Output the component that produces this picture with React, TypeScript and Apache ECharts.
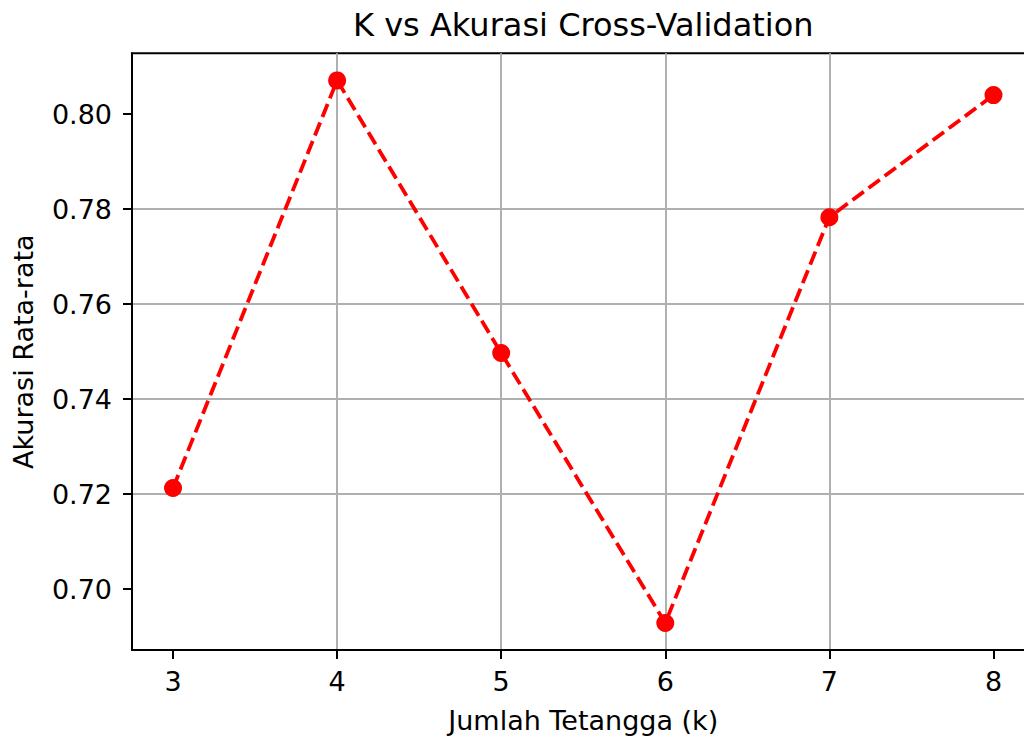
import React, { useEffect, useRef } from "react";
import * as echarts from "echarts";

const kValues = [3, 4, 5, 6, 7, 8];
const accuracy = [0.7213, 0.8071, 0.7497, 0.6929, 0.7783, 0.804];
const xTicks = [3, 4, 5, 6, 7, 8];
const yTicks = [0.7, 0.72, 0.74, 0.76, 0.78, 0.8];
const titleText = "K vs Akurasi Cross-Validation";
const xName = "Jumlah Tetangga (k)";
const yName = "Akurasi Rata-rata";

const FONT = "DejaVu Sans";
const CHART_W = 1035;
const CHART_H = 738;

export default function App() {
  const ref = useRef<HTMLDivElement>(null);
  useEffect(() => {
    if (!ref.current) return;
    const chart = echarts.init(ref.current, null, { renderer: "svg" });
    const gridLeft = 132;
    const gridTop = 53.3;
    const gridBottom = 88;
    const gridRight = 0.5;
    const plotCenterX = gridLeft + (CHART_W - gridLeft - gridRight) / 2;
    const plotCenterY = gridTop + (CHART_H - gridTop - gridBottom) / 2;
    chart.setOption({
      animation: false,
      backgroundColor: "#ffffff",
      grid: {
        left: gridLeft,
        top: gridTop,
        bottom: gridBottom,
        right: gridRight,
        show: true,
        borderColor: "#000000",
        borderWidth: 2,
        containLabel: false,
      },
      graphic: [
        {
          type: "text",
          x: plotCenterX,
          y: 25,
          style: {
            text: titleText,
            font: `32px "${FONT}"`,
            fill: "#000000",
            textAlign: "center",
            textVerticalAlign: "middle",
          },
        },
        {
          type: "text",
          x: plotCenterX,
          y: 720,
          style: {
            text: xName,
            font: `27px "${FONT}"`,
            fill: "#000000",
            textAlign: "center",
            textVerticalAlign: "middle",
          },
        },
        {
          type: "text",
          x: 23,
          y: plotCenterY,
          rotation: Math.PI / 2,
          style: {
            text: yName,
            font: `27px "${FONT}"`,
            fill: "#000000",
            textAlign: "center",
            textVerticalAlign: "middle",
          },
        },
      ],
      xAxis: {
        type: "value",
        min: 2.75,
        max: 8.25,
        splitNumber: 5,
        minInterval: 1,
        maxInterval: 1,
        axisLine: { show: true, onZero: false, lineStyle: { color: "#000", width: 2 } },
        axisTick: {
          show: true,
          customValues: xTicks,
          length: 9,
          inside: false,
          lineStyle: { color: "#000", width: 2 },
        },
        axisLabel: {
          customValues: xTicks,
          margin: 18,
          color: "#000",
          fontSize: 27,
          fontFamily: FONT,
        },
        splitLine: {
          show: true,
          showMinLine: false,
          showMaxLine: false,
          lineStyle: { color: "#b0b0b0", width: 2 },
        },
      },
      yAxis: {
        type: "value",
        min: 0.6872,
        max: 0.8128,
        splitNumber: 6,
        minInterval: 0.02,
        maxInterval: 0.02,
        axisLine: { show: true, onZero: false, lineStyle: { color: "#000", width: 2 } },
        axisTick: {
          show: true,
          customValues: yTicks,
          length: 9,
          inside: false,
          lineStyle: { color: "#000", width: 2 },
        },
        axisLabel: {
          customValues: yTicks,
          margin: 20,
          color: "#000",
          fontSize: 27,
          fontFamily: FONT,
          formatter: (v: number) => v.toFixed(2),
        },
        splitLine: {
          show: true,
          showMinLine: false,
          showMaxLine: false,
          lineStyle: { color: "#b0b0b0", width: 2 },
        },
      },
      series: [
        {
          type: "line",
          data: kValues.map((k, i) => [k, accuracy[i]]),
          symbol: "circle",
          symbolSize: 18,
          itemStyle: { color: "#ff0000" },
          lineStyle: { color: "#ff0000", width: 3.8, type: [14, 6] },
          z: 5,
        },
      ],
    });
    return () => chart.dispose();
  }, []);
  return (
    <div
      style={{ position: "fixed", left: 0, top: 0, width: 1024, height: 738, overflow: "hidden", background: "#fff" }}
    >
      <div ref={ref} style={{ width: CHART_W, height: CHART_H }} />
    </div>
  );
}
